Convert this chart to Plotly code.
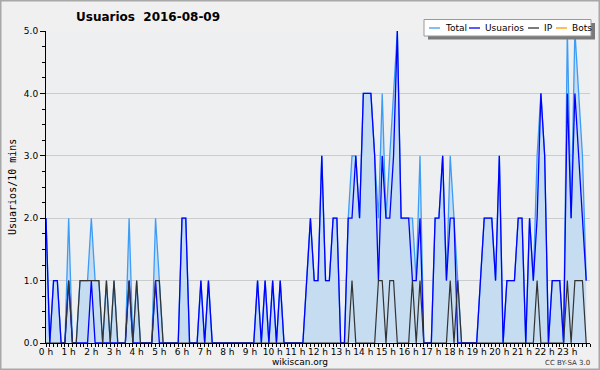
import plotly.graph_objects as go

# ---- data: 10-minute slots over 24 h (144 slots) ----
slots = list(range(144))
hour_labels = [f"{h} h" for h in range(24)]
hour_ticks = [h * 6 for h in range(24)]
y_ticks = [0, 1, 2, 3, 4, 5]
y_labels = ["0.0", "1.0", "2.0", "3.0", "4.0", "5.0"]

total = [
    2, 0, 1, 1, 0, 0, 2, 0, 0, 1, 1, 1,
    2, 1, 1, 0, 1, 0, 1, 0, 0, 0, 2, 0,
    1, 0, 0, 0, 0, 2, 1, 0, 0, 0, 0, 0,
    2, 2, 0, 0, 0, 1, 0, 1, 0, 0, 0, 0,
    0, 0, 0, 0, 0, 0, 0, 0, 1, 0, 1, 0,
    1, 0, 1, 0, 0, 0, 0, 0, 0, 1, 2, 1,
    1, 3, 1, 1, 2, 2, 0, 0, 2, 3, 3, 2,
    4, 4, 4, 3, 2, 4, 2, 3, 4, 5, 2, 2,
    2, 2, 1, 3, 0, 0, 0, 2, 2, 3, 1, 3,
    2, 1, 0, 0, 0, 0, 0, 1, 2, 2, 2, 1,
    3, 0, 1, 1, 1, 2, 2, 0, 2, 1, 3, 4,
    3, 0, 1, 1, 1, 0, 5, 2, 5, 4, 3, 1,
]
usuarios = [
    2, 0, 1, 1, 0, 0, 1, 0, 0, 0, 0, 0,
    1, 0, 0, 0, 0, 0, 0, 0, 0, 0, 1, 0,
    0, 0, 0, 0, 0, 1, 0, 0, 0, 0, 0, 0,
    2, 2, 0, 0, 0, 1, 0, 1, 0, 0, 0, 0,
    0, 0, 0, 0, 0, 0, 0, 0, 1, 0, 1, 0,
    1, 0, 1, 0, 0, 0, 0, 0, 0, 1, 2, 1,
    1, 3, 1, 1, 2, 2, 0, 0, 2, 2, 3, 2,
    4, 4, 4, 3, 1, 3, 2, 2, 3, 5, 2, 2,
    2, 1, 1, 2, 0, 0, 0, 2, 2, 3, 1, 2,
    2, 0, 0, 0, 0, 0, 0, 1, 2, 2, 2, 1,
    3, 0, 1, 1, 1, 2, 2, 0, 2, 1, 2, 4,
    3, 0, 1, 1, 1, 0, 4, 2, 4, 3, 2, 1,
]
ip = [
    0, 0, 0, 0, 0, 0, 1, 0, 0, 1, 1, 1,
    1, 1, 1, 0, 1, 0, 1, 0, 0, 0, 1, 0,
    1, 0, 0, 0, 0, 1, 1, 0, 0, 0, 0, 0,
    0, 0, 0, 0, 0, 0, 0, 0, 0, 0, 0, 0,
    0, 0, 0, 0, 0, 0, 0, 0, 0, 0, 0, 0,
    0, 0, 0, 0, 0, 0, 0, 0, 0, 0, 0, 0,
    0, 0, 0, 0, 0, 0, 0, 0, 0, 1, 0, 0,
    0, 0, 0, 0, 1, 1, 0, 1, 1, 0, 0, 0,
    0, 1, 0, 1, 0, 0, 0, 0, 0, 0, 0, 1,
    0, 1, 0, 0, 0, 0, 0, 0, 0, 0, 0, 0,
    0, 0, 0, 0, 0, 0, 0, 0, 0, 0, 1, 0,
    0, 0, 0, 0, 0, 0, 1, 0, 1, 1, 1, 0,
]
bots = [0] * 144

# ---- layout constants (pixels) ----
W, H = 600, 370
L, R, T, B = 46, 10, 31, 27
PW, PH = W - L - R, H - T - B

def px(x):
    return (x - L) / PW

def py(y):
    return (H - B - y) / PH

C_TOTAL = "#3d9cf5"
C_USU = "#0000ff"
C_IP = "#333333"
C_BOTS = "#ff9900"
FONT = "DejaVu Sans"

fig = go.Figure()
fig.add_trace(go.Scatter(x=slots, y=bots, mode="lines", name="Bots",
                         line=dict(color=C_BOTS, width=1.2), showlegend=False))
fig.add_trace(go.Scatter(x=slots, y=total, mode="lines", name="Total",
                         fill="tozeroy", fillcolor="#c6ddf1",
                         line=dict(color=C_TOTAL, width=1.3), showlegend=False))
fig.add_trace(go.Scatter(x=slots, y=usuarios, mode="lines", name="Usuarios",
                         line=dict(color=C_USU, width=1.3), showlegend=False))
fig.add_trace(go.Scatter(x=slots, y=ip, mode="lines", name="IP",
                         line=dict(color=C_IP, width=1.2), showlegend=False))

fig.update_layout(
    width=W, height=H,
    margin=dict(l=L, r=R, t=T, b=B, pad=0),
    paper_bgcolor="#f0f0f0",
    plot_bgcolor="#edeff1",
    font=dict(family=FONT, size=9, color="#000"),
    showlegend=False,
)
fig.update_xaxes(
    range=[0, 144], tickmode="array", tickvals=hour_ticks, ticktext=hour_labels,
    ticks="outside", ticklen=3, tickcolor="#000", tickwidth=1,
    ticklabelstandoff=-3,
    showline=True, linecolor="#000", linewidth=1, showgrid=False, zeroline=False,
    tickfont=dict(family=FONT, size=9),
    minor=dict(dtick=1, tick0=0, ticks="outside", ticklen=3, tickcolor="#000", showgrid=False),
)
fig.update_yaxes(
    range=[0, 5], tickmode="array", tickvals=y_ticks, ticktext=y_labels,
    ticks="outside", ticklen=5, tickcolor="#000", tickwidth=1,
    showline=True, linecolor="#000", linewidth=1,
    showgrid=True, gridcolor="#cccccc", gridwidth=1, zeroline=False,
    tickfont=dict(family=FONT, size=9),
    minor=dict(dtick=0.25, tick0=0, ticks="outside", ticklen=3, tickcolor="#000", showgrid=False),
)

shapes = []
annots = []
# outer border
shapes.append(dict(type="rect", xref="paper", yref="paper",
                   x0=px(0.75), x1=px(W - 0.75), y0=py(0.75), y1=py(H - 0.75),
                   line=dict(color="#a8a8a8", width=1.5), fillcolor="rgba(0,0,0,0)", layer="above"))
# legend shadow + box
shapes.append(dict(type="rect", xref="paper", yref="paper",
                   x0=px(428), x1=px(595), y0=py(23), y1=py(39.5),
                   line=dict(width=0), fillcolor="#7a7a7a", layer="above"))
shapes.append(dict(type="rect", xref="paper", yref="paper",
                   x0=px(424), x1=px(591), y0=py(19.5), y1=py(36),
                   line=dict(color="#999999", width=1), fillcolor="#ffffff", layer="above"))
legend_items = [("Total", C_TOTAL, 429, 443), ("Usuarios", C_USU, 469, 483),
                ("IP", C_IP, 528, 542), ("Bots", C_BOTS, 556, 570)]
for name, col, lx, tx in legend_items:
    shapes.append(dict(type="line", xref="paper", yref="paper",
                       x0=px(lx), x1=px(lx + 11), y0=py(28), y1=py(28),
                       line=dict(color=col, width=1.3), layer="above"))
    annots.append(dict(text=name, xref="paper", yref="paper", x=px(tx), y=py(28),
                       xanchor="left", yanchor="middle", showarrow=False,
                       font=dict(family=FONT, size=9, color="#000")))

# title
annots.append(dict(text="<b>Usuarios\u00a0\u00a02016-08-09</b>", xref="paper", yref="paper",
                   x=px(74), y=py(17), xanchor="left", yanchor="middle", showarrow=False,
                   font=dict(family=FONT, size=12, color="#000")))
# y-axis label
annots.append(dict(text="Usuarios/10 mins", xref="paper", yref="paper",
                   x=px(12), y=py(187), xanchor="center", yanchor="middle", showarrow=False,
                   textangle=-90, font=dict(family="DejaVu Sans Mono", size=10, color="#000")))
# footer
annots.append(dict(text="wikiscan.org", xref="paper", yref="paper",
                   x=px(300), y=py(362), xanchor="center", yanchor="middle", showarrow=False,
                   font=dict(family=FONT, size=9, color="#000")))
annots.append(dict(text="CC BY-SA 3.0", xref="paper", yref="paper",
                   x=px(592), y=py(362.5), xanchor="right", yanchor="middle", showarrow=False,
                   font=dict(family=FONT, size=7, color="#333")))

fig.update_layout(shapes=shapes, annotations=annots)
fig.write_html("out.html", config={"displayModeBar": False},
               post_script="document.body.style.margin='0';document.body.style.overflow='hidden';")
